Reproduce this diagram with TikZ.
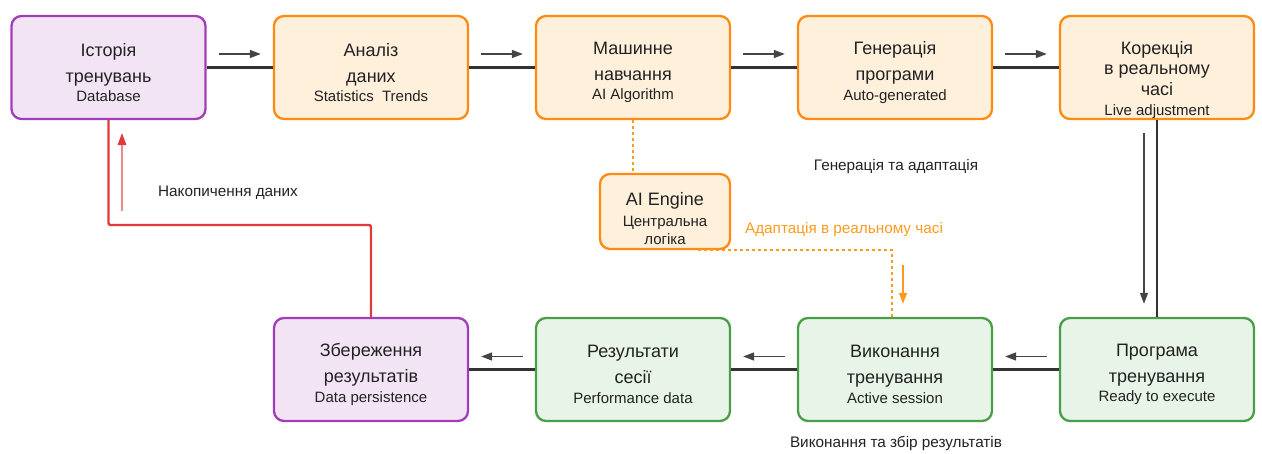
\documentclass[tikz,border=0pt]{standalone}
\usepackage{fontspec}
\setmainfont{Liberation Sans}
\usetikzlibrary{arrows.meta,calc}

\definecolor{purpleFill}{HTML}{F3E4F5}
\definecolor{purpleLine}{HTML}{A23DB9}
\definecolor{orangeFill}{HTML}{FFF0DC}
\definecolor{orangeLine}{HTML}{FF8A12}
\definecolor{greenFill}{HTML}{E8F4E7}
\definecolor{greenLine}{HTML}{4A9E48}
\definecolor{flowLine}{HTML}{333333}
\definecolor{hintLine}{HTML}{444444}
\definecolor{backRed}{HTML}{E03A3A}
\definecolor{aiOrange}{HTML}{FF9A1F}
\definecolor{ink}{HTML}{222222}

\newcommand\mainsz{\fontsize{18}{26}\selectfont}
\newcommand\subsz{\fontsize{15}{18}\selectfont}
\newcommand\lblsz{\fontsize{15.3}{18}\selectfont}

\begin{document}
\begin{tikzpicture}[x=1pt,y=-1pt,
  card/.style={draw, line width=2.3pt, rounded corners=10pt,
    minimum width=194pt, minimum height=103pt, inner sep=0pt},
  history/.style={card, fill=purpleFill, draw=purpleLine},
  engine/.style={card, fill=orangeFill, draw=orangeLine},
  runner/.style={card, fill=greenFill, draw=greenLine},
  txt/.style={align=center, font=\mainsz, text=ink, inner sep=0pt},
  flow/.style={line width=2.6pt, draw=flowLine},
  hint/.style={line width=1.4pt, draw=hintLine,
    -{Triangle[length=11pt,width=8pt]}},
  lbl/.style={font=\lblsz, text=ink, inner sep=0pt},
]
\useasboundingbox (0,0) rectangle (1262,454);

% ---- top row: planning ----
\node[history] (hist) at (108.5,67.5) {};
\node[engine]  (anal) at (371,67.5) {};
\node[engine]  (ml)   at (633,67.5) {};
\node[engine]  (gen)  at (895,67.5) {};
\node[engine]  (corr) at (1157,67.5) {};

% ---- bottom row: execution ----
\node[history] (save) at (371,369.5) {};
\node[runner]  (res)  at (633,369.5) {};
\node[runner]  (exec) at (895,369.5) {};
\node[runner]  (prog) at (1157,369.5) {};

% ---- central engine ----
\node[engine, minimum width=130pt, minimum height=75pt] (ai) at (665,211.5) {};

% ---- card texts ----
\node[txt] (hist-t) at ($(hist)+(0,5)$) {Історія\\тренувань\\[-6.5pt]\subsz Database};
\node[txt] (anal-t) at ($(anal)+(0,5)$) {Аналіз\\даних\\[-6.5pt]\subsz Statistics\ \ Trends};
\node[txt] (ml-t)   at ($(ml)+(0,5)$)   {Машинне\\навчання\\[-6.5pt]\subsz AI Algorithm};
\node[txt] (gen-t)  at ($(gen)+(0,5)$)  {Генерація\\програми\\[-6.5pt]\subsz Auto-generated};
\node[txt] (corr-t) at ($(corr)+(0,12.5)$) {Корекція\\[-5.5pt]в реальному\\[-5.5pt]часі\\[-5.5pt]\subsz Live adjustment};

\node[txt] (save-t) at ($(save)+(0,5)$) {Збереження\\результатів\\[-6.5pt]\subsz Data persistence};
\node[txt] (res-t)  at ($(res)+(0,5)$)  {Результати\\сесії\\[-6.5pt]\subsz Performance data};
\node[txt] (exec-t) at ($(exec)+(0,5)$) {Виконання\\тренування\\[-6.5pt]\subsz Active session};
\node[txt] (prog-t) at ($(prog)+(0,5)$) {Програма\\тренування\\[-6.5pt]\subsz Ready to execute};

\node[txt] (ai-t) at ($(ai)+(0,7)$) {AI Engine\\[-5pt]\subsz Центральна\\[-7.5pt]\subsz логіка};

% ---- main flow connectors ----
\draw[flow] (hist.east) -- (anal.west);
\draw[flow] (anal.east) -- (ml.west);
\draw[flow] (ml.east) -- (gen.west);
\draw[flow] (gen.east) -- (corr.west);
\draw[flow] (corr.south) -- (prog.north);
\draw[flow] (prog.west) -- (exec.east);
\draw[flow] (exec.west) -- (res.east);
\draw[flow] (res.west) -- (save.east);

% ---- direction hints ----
\foreach \a/\b in {hist/anal, anal/ml, ml/gen, gen/corr}{
  \draw[hint] ($(\a.east)+(12,-13.5)$) -- ($(\b.west)+(-12,-13.5)$);
}
\foreach \a/\b in {prog/exec, exec/res, res/save}{
  \draw[hint] ($(\a.west)+(-12,-13)$) -- ($(\b.east)+(12,-13)$);
}
\draw[hint] ($(corr.south)+(-13,13)$) -- ($(prog.north)+(-13,-13)$);

% ---- feedback: results back to history ----
\coordinate (backY) at (0,225);
\draw[backRed, line width=2.4pt, rounded corners=2pt]
  (save.north) -- (save.north |- backY) -| (hist.south);
\draw[backRed!60, line width=1.4pt] ($(hist.south)+(13.5,91)$) -- ($(hist.south)+(13.5,22)$);
\path[fill=backRed] ($(hist.south)+(13.5,13)$) -- ++(-4.5,12) -- ++(9,0) -- cycle;
\node[lbl] (acc) at (228,193) {Накопичення даних};

% ---- AI engine links ----
\draw[aiOrange, line width=2.3pt, dash pattern=on 3pt off 3pt]
  (ml.south) -- (ml.south |- ai.north);
\coordinate (adaptY) at (0,277.5);
\draw[aiOrange, line width=2.3pt, dash pattern=on 3pt off 3pt]
  ($(ai.south)+(33,0)$) -- ($(ai.south)+(33,0)$ |- adaptY)
  -| ($(exec.north)+(-3,0)$);
\draw[aiOrange, line width=1.4pt, -{Triangle[length=11pt,width=8pt]}]
  ($(exec.north)+(8,-52)$) -- ($(exec.north)+(8,-13)$);

% ---- section labels ----
\node[lbl] (genlbl) at (896,167) {Генерація та адаптація};
\node[lbl, text=aiOrange] (adlbl) at (844,230) {Адаптація в реальному часі};
\node[lbl] (execlbl) at (896,443) {Виконання та збір результатів};
\end{tikzpicture}
\end{document}
